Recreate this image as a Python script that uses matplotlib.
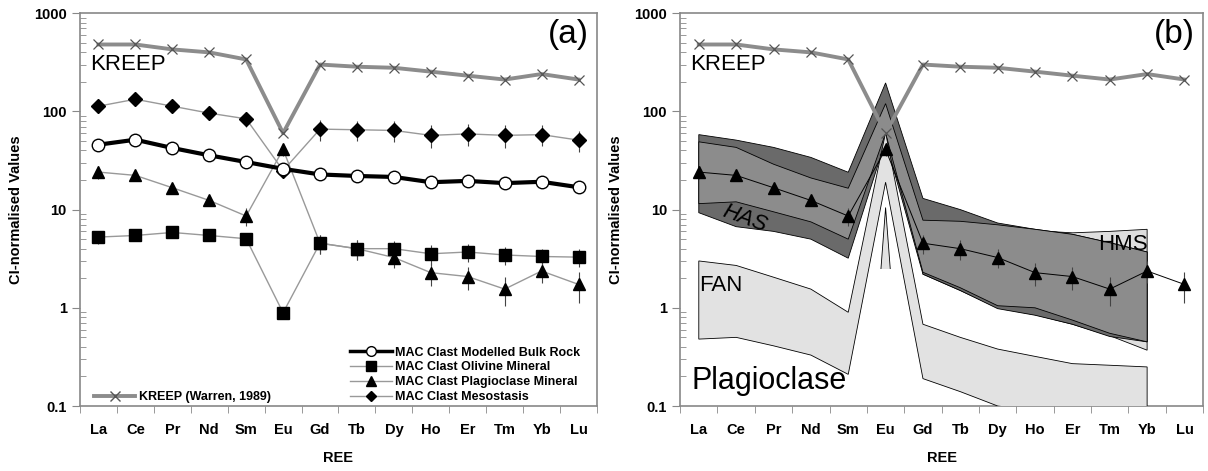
import numpy as np
import matplotlib
matplotlib.use('Agg')
import matplotlib.pyplot as plt
from matplotlib.lines import Line2D
from matplotlib.patches import Rectangle

plt.rcParams['font.family'] = ['Liberation Sans', 'DejaVu Sans']

### REE data (CI-normalised)
ree = ['La', 'Ce', 'Pr', 'Nd', 'Sm', 'Eu', 'Gd', 'Tb', 'Dy', 'Ho', 'Er', 'Tm', 'Yb', 'Lu']
kreep = [480, 480, 428, 399, 338, 60, 300, 285, 278, 254, 231, 211, 240, 211]
bulk = [45.8, 51.5, 42.4, 35.7, 30.5, 26, 22.8, 22.0, 21.5, 19.0, 19.6, 18.6, 19.2, 16.9]
olivine = [5.25, 5.45, 5.85, 5.45, 5.05, 0.89, 4.55, 4.0, 4.0, 3.55, 3.7, 3.45, 3.33, 3.28]
olivine_err = [0.8, 0.6, 0.5, 0.6, 0.5, 0.12, 1.0, 0.9, 0.8, 0.8, 0.8, 0.7, 0.6, 0.7]
plag = [24.1, 22.3, 16.7, 12.4, 8.6, 41, 4.55, 4.0, 3.25, 2.28, 2.08, 1.55, 2.37, 1.73]
plag_err = [3.5, 2.5, 1.5, 1.5, 1.8, 6, 1.0, 0.9, 0.7, 0.6, 0.55, 0.5, 0.6, 0.6]
meso = [113, 133, 113, 96, 84, 25, 66, 65, 64, 57, 59, 57, 58, 51]
meso_err = [15, 12, 10, 10, 15, 4, 16, 15, 15, 15, 15, 15, 14, 12]

### panel (b) compositional fields: upper / lower bounds
has_idx = list(range(0, 13))          # La..Yb
has_dark_up = [58, 51, 43, 34, 24, 195, 13, 10, 7.3, 6.3, 5.6, 4.6, 3.7]
has_dark_lo = [9.3, 6.7, 6.0, 5.0, 3.2, 50, 2.2, 1.5, 0.98, 0.84, 0.68, 0.51, 0.45]
has_mid_up = [49, 43, 29, 21, 16.5, 120, 7.8, 7.6, 7.0, 6.3, 5.6, 4.6, 3.7]
has_mid_lo = [11.5, 12, 9.5, 7.5, 5.0, 60, 2.3, 1.6, 1.05, 1.0, 0.75, 0.55, 0.45]
hms_idx = list(range(6, 13))          # Gd..Yb
hms_up = [7.5, 7.2, 6.8, 6.1, 5.8, 6.0, 6.3]
hms_lo = [2.2, 1.5, 1.0, 0.85, 0.68, 0.52, 0.37]
fan_idx = list(range(0, 13))          # La..Yb
fan_up = [3.0, 2.7, 2.05, 1.55, 0.9, 61, 0.68, 0.5, 0.38, 0.32, 0.27, 0.26, 0.25]
fan_lo = [0.48, 0.5, 0.41, 0.33, 0.21, 19, 0.19, 0.14, 0.1, 0.09, 0.08, 0.075, 0.07]
pl_idx = [4, 5, 6]                    # Sm..Gd, small Eu spike
pl_up = [0.0001, 10.5, 0.0001]
pl_lo = [0.0001, 0.0001, 0.0001]
pl_floor = 2.5

x = np.arange(len(ree))


def style_axes(ax):
    ax.set_yscale('log')
    ax.set_ylim(0.1, 1000)
    ax.set_xlim(-0.5, 13.5)
    ax.set_xticks(x)
    ax.set_xticklabels(ree, fontweight='bold', fontsize=10.5)
    ax.set_xticks(np.arange(-0.5, 14, 1), minor=True)
    ax.tick_params(axis='x', which='major', length=0, pad=12)
    ax.tick_params(axis='x', which='minor', length=5, color='#888888', direction='out')
    ax.set_yticks([0.1, 1, 10, 100, 1000])
    ax.set_yticklabels(['0.1', '1', '10', '100', '1000'], fontweight='bold', fontsize=10.5)
    ax.tick_params(axis='y', which='major', length=6, color='#888888', direction='out')
    ax.tick_params(axis='y', which='minor', length=4, color='#888888', direction='in')
    ax.yaxis.set_minor_formatter(matplotlib.ticker.NullFormatter())
    for s in ax.spines.values():
        s.set_color('#888888')
        s.set_linewidth(1.2)
    ax.set_xlabel('REE', fontweight='bold', fontsize=10.5, labelpad=10)
    ax.set_ylabel('CI-normalised Values', fontweight='bold', fontsize=10.5, labelpad=8)


def kreep_line(ax):
    ax.plot(x, kreep, color='#8c8c8c', lw=2.8, marker='x', ms=7,
            mec='#555555', mew=0.9, zorder=5)


def poly(ax, idx, up, lo, color, z):
    px = list(idx) + list(idx)[::-1]
    py = list(up) + list(lo)[::-1]
    return ax.fill(px, py, facecolor=color, edgecolor='black', lw=0.6, zorder=z)[0]


fig = plt.figure(figsize=(12.08, 4.71), dpi=100)
ax1 = fig.add_axes([0.0662, 0.138, 0.428, 0.834])
ax2 = fig.add_axes([0.563, 0.138, 0.433, 0.834])

### panel (a)
kreep_line(ax1)
ax1.errorbar(x, meso, yerr=meso_err, color='#999999', lw=1, marker='D', ms=7,
             mfc='black', mec='black', ecolor='#444444', elinewidth=0.8, capsize=0, zorder=6)
ax1.errorbar(x, plag, yerr=plag_err, color='#999999', lw=1, marker='^', ms=9,
             mfc='black', mec='black', ecolor='#444444', elinewidth=0.8, capsize=0, zorder=6)
ax1.errorbar(x, olivine, yerr=olivine_err, color='#999999', lw=1, marker='s', ms=8,
             mfc='black', mec='black', ecolor='#444444', elinewidth=0.8, capsize=0, zorder=6)
ax1.plot(x, bulk, color='black', lw=3, marker='o', ms=9, mfc='white', mec='black',
         mew=1, zorder=7)
style_axes(ax1)
ax1.text(0.02, 0.855, 'KREEP', transform=ax1.transAxes, fontsize=16)
ax1.text(0.985, 0.985, '(a)', transform=ax1.transAxes, fontsize=24, ha='right', va='top')

h_main = [
    Line2D([], [], color='black', lw=2.5, marker='o', ms=7, mfc='white', mec='black'),
    Line2D([], [], color='#999999', lw=1, marker='s', ms=7, mfc='black', mec='black'),
    Line2D([], [], color='#999999', lw=1, marker='^', ms=7, mfc='black', mec='black'),
    Line2D([], [], color='#999999', lw=1, marker='D', ms=5, mfc='black', mec='black'),
]
l_main = ['MAC Clast Modelled Bulk Rock', 'MAC Clast Olivine Mineral',
          'MAC Clast Plagioclase Mineral', 'MAC Clast Mesostasis']
leg1 = ax1.legend(h_main, l_main, loc='lower right', bbox_to_anchor=(0.985, -0.015),
                  frameon=False, prop={'weight': 'bold', 'size': 9},
                  handlelength=3.3, handletextpad=0.3, labelspacing=0.23, borderaxespad=0.3)
ax1.add_artist(leg1)
h_kreep = [Line2D([], [], color='#8c8c8c', lw=2.8, marker='x', ms=7, mec='#555555')]
ax1.legend(h_kreep, ['KREEP (Warren, 1989)'], loc='lower left', bbox_to_anchor=(0.01, -0.015),
           frameon=False, prop={'weight': 'bold', 'size': 9},
           handlelength=3.3, handletextpad=0.3, borderaxespad=0.3)

### panel (b)
poly(ax2, hms_idx, hms_up, hms_lo, '#dedede', 1)
poly(ax2, has_idx, has_dark_up, has_dark_lo, '#6a6a6a', 2)
poly(ax2, has_idx, has_mid_up, has_mid_lo, '#8c8c8c', 3)
poly(ax2, fan_idx, fan_up, fan_lo, '#e2e2e2', 4)
spike = poly(ax2, pl_idx, pl_up, pl_lo, '#e2e2e2', 4)
spike.set_clip_path(Rectangle((pl_idx[0], pl_floor), pl_idx[-1] - pl_idx[0], 1000,
                              transform=ax2.transData))
kreep_line(ax2)
ax2.errorbar(x, plag, yerr=plag_err, color='black', lw=0.7, marker='^', ms=9,
             mfc='black', mec='black', ecolor='#444444', elinewidth=0.8, capsize=0, zorder=6)
style_axes(ax2)
ax2.text(0.02, 0.855, 'KREEP', transform=ax2.transAxes, fontsize=16)
ax2.text(0.985, 0.985, '(b)', transform=ax2.transAxes, fontsize=24, ha='right', va='top')
ax2.text(0.55, 6.0, 'HAS', fontsize=16, style='italic', rotation=-20, zorder=8)
ax2.text(10.7, 3.9, 'HMS', fontsize=16, zorder=8)
ax2.text(0.0, 1.5, 'FAN', fontsize=16, zorder=8)
ax2.text(-0.2, 0.15, 'Plagioclase', fontsize=22, zorder=8)

plt.savefig('out.png', dpi=100)
